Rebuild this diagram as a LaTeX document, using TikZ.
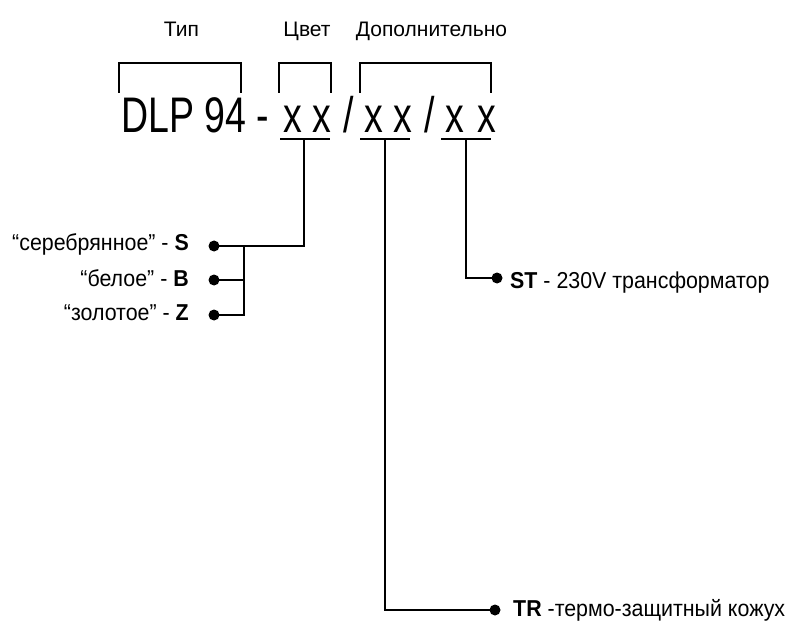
\documentclass[tikz,border=0pt]{standalone}
\usepackage{fontspec}
\setmainfont{Liberation Sans}
\newfontfamily\narrowfont[FakeStretch=0.75]{Liberation Sans}
\newfontfamily\lblfont[FakeStretch=0.93]{Liberation Sans}
\begin{document}
\begin{tikzpicture}[x=1pt,y=-1pt,
  head/.style={inner sep=0pt,font=\fontsize{21}{25}\selectfont},
  lbl/.style={inner sep=0pt,font=\fontsize{23}{27}\selectfont\lblfont},
  big/.style={inner sep=0pt,font=\fontsize{50}{60}\selectfont\narrowfont},
  wire/.style={line width=1.1pt,black},
  dot/.style={circle,fill=black,inner sep=0pt,minimum size=11pt}]
\useasboundingbox (0,0) rectangle (796,623);
% headings
\node[head,anchor=base] (tip) at (181.5,37) {Тип};
\node[head,anchor=base] (cvet) at (307,37) {Цвет};
\node[head,anchor=base] (dop) at (431.5,37) {Дополнительно};
% brackets
\draw[wire] (119,93) -- (119,63) -- (241,63) -- (241,93);
\draw[wire] (279,93) -- (279,63) -- (331,63) -- (331,93);
\draw[wire] (360,93) -- (360,63) -- (491,63) -- (491,93);
% main code
\node[big,anchor=base west] (dlp) at (121,133) {DLP 94 -};
\node[big,anchor=base] (xa) at (307.5,133) {x x};
\node[big,anchor=base] (s1) at (348.5,133) {/};
\node[big,anchor=base] (xb) at (388.5,133) {x x};
\node[big,anchor=base] (s2) at (430,133) {/};
\node[big,anchor=base] (xc) at (471,133) {x\hspace{3pt} x};
% underlines
\coordinate (ua) at (304,139);
\coordinate (ub) at (385,139);
\coordinate (uc) at (466,139);
\draw[wire] (280,139) -- (330,139);
\draw[wire] (360,139) -- (410,139);
\draw[wire] (441,139) -- (491,139);
% colour options
\node[dot] (dS) at (214,246) {};
\node[dot] (dB) at (214,280) {};
\node[dot] (dZ) at (214,315) {};
\node[lbl,anchor=base east] (tS) at (189,251) {“серебрянное” - \textbf{S}};
\node[lbl,anchor=base east] (tB) at (189,286) {“белое” - \textbf{B}};
\node[lbl,anchor=base east] (tZ) at (189,320) {“золотое” - \textbf{Z}};
\coordinate (jn) at (244,246);
\draw[wire] (ua) |- (dS.center);
\draw[wire] (jn) |- (dZ.center);
\draw[wire] (dB.center) -- (jn |- dB);
% ST
\node[dot] (dST) at (497,278) {};
\node[lbl,anchor=base west] (tST) at (510,288) {\textbf{ST} - 230V трансформатор};
\draw[wire] (uc) |- (dST.center);
% TR
\node[dot] (dTR) at (495,610) {};
\node[lbl,anchor=base west] (tTR) at (513,616) {\textbf{TR} -термо-защитный кожух};
\draw[wire] (ub) |- (dTR.center);
\end{tikzpicture}
\end{document}
